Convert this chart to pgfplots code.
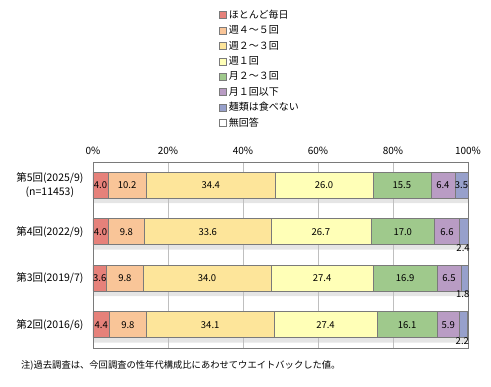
\documentclass[border=0pt]{standalone}
\usepackage{pgfplots}
\pgfplotsset{compat=1.18}
\usepackage{fontspec}
\setmainfont{Noto Sans CJK JP}
\definecolor{c1}{HTML}{E6817A}
\definecolor{c2}{HTML}{F9C598}
\definecolor{c3}{HTML}{FDE59A}
\definecolor{c4}{HTML}{FFFFB7}
\definecolor{c5}{HTML}{9FC98C}
\definecolor{c6}{HTML}{B99CC4}
\definecolor{c7}{HTML}{97A0CB}
\definecolor{bord}{HTML}{7A7A7A}
\pgfplotsset{
  geom/.style={anchor=south west, scale only axis, width=375pt, height=186pt,
    xmin=0, xmax=100, ymin=-0.5, ymax=3.5, y dir=reverse},
}
\begin{document}
\begin{tikzpicture}[x=1pt,y=1pt]
\useasboundingbox (0,0) rectangle (491,387);
% shadow
\begin{axis}[geom, at={(93pt,34pt)}, hide axis, xbar, bar width=26pt]
\addplot[fill=black!10, draw=none] coordinates {(100,0) (100.1,1) (100,2) (99.9,3)};
\end{axis}
% bars
\begin{axis}[geom, at={(93pt,39pt)},
  xbar stacked, bar width=26pt,
  clip=false,
  xtick={0,20,40,60,80,100}, xticklabel pos=upper,
  xticklabel={\pgfmathprintnumber{\tick}\%},
  /pgf/number format/assume math mode=true,
  xmajorgrids, major grid style={draw=black!25, line width=0.6pt},
  ytick={0,1,2,3},
  yticklabels={{第5回(2025/9)\\(n=11453)},{第4回(2022/9)},{第3回(2019/7)},{第2回(2016/6)}},
  yticklabel style={align=center, font=\fontsize{10.5}{14}\selectfont, xshift=-6pt},
  xticklabel style={font=\fontsize{10}{12}\selectfont, yshift=4pt},
  tick style={draw=none},
  axis line style={draw=bord, line width=0.7pt},
  legend image code/.code={\draw[#1, draw=bord, line width=0.6pt] (0pt,-3.5pt) rectangle (7pt,3.5pt);},
  legend cell align=left,
  legend style={at={(0.336,1.825)}, anchor=north west, draw=none, fill=none,
    inner sep=0pt, row sep=2.4pt, font=\fontsize{10}{12}\selectfont,
    nodes={inner sep=2pt, text height=7.5pt, text depth=1.5pt}},
  every axis plot/.append style={draw=bord, line width=0.5pt},
]
\addplot[fill=c1] coordinates {(4.0,0) (4.0,1) (3.6,2) (4.4,3)};
\addlegendentry{ほとんど毎日}
\addplot[fill=c2] coordinates {(10.2,0) (9.8,1) (9.8,2) (9.8,3)};
\addlegendentry{週４～５回}
\addplot[fill=c3] coordinates {(34.4,0) (33.6,1) (34.0,2) (34.1,3)};
\addlegendentry{週２～３回}
\addplot[fill=c4] coordinates {(26.0,0) (26.7,1) (27.4,2) (27.4,3)};
\addlegendentry{週１回}
\addplot[fill=c5] coordinates {(15.5,0) (17.0,1) (16.9,2) (16.1,3)};
\addlegendentry{月２～３回}
\addplot[fill=c6] coordinates {(6.4,0) (6.6,1) (6.5,2) (5.9,3)};
\addlegendentry{月１回以下}
\addplot[fill=c7] coordinates {(3.5,0) (2.4,1) (1.8,2) (2.2,3)};
\addlegendentry{麺類は食べない}
\addlegendimage{fill=white}
\addlegendentry{無回答}
\end{axis}
% value labels, at the middle of each segment
\begin{axis}[geom, at={(93pt,39pt)}, hide axis, clip=false,
  point meta=explicit symbolic,
  every axis plot/.append style={nodes near coords},
  every axis plot post/.append style={draw=none, mark=none},
  every node near coord/.style={anchor=center, inner sep=0pt, font=\fontsize{9.5}{11}\selectfont, text=black},
]
\addplot coordinates {(2.0,0) [4.0] (2.0,1) [4.0] (1.8,2) [3.6] (2.2,3) [4.4]};
\addplot coordinates {(9.1,0) [10.2] (8.9,1) [9.8] (8.5,2) [9.8] (9.3,3) [9.8]};
\addplot coordinates {(31.4,0) [34.4] (30.6,1) [33.6] (30.4,2) [34.0] (31.25,3) [34.1]};
\addplot coordinates {(61.6,0) [26.0] (60.75,1) [26.7] (61.1,2) [27.4] (62.0,3) [27.4]};
\addplot coordinates {(82.35,0) [15.5] (82.6,1) [17.0] (83.25,2) [16.9] (83.75,3) [16.1]};
\addplot coordinates {(93.3,0) [6.4] (94.4,1) [6.6] (94.95,2) [6.5] (94.75,3) [5.9]};
\addplot coordinates {(98.25,0) [3.5]};
\addplot[every node near coord/.append style={anchor=east, xshift=1.5pt, yshift=-16pt}]
  coordinates {(100.1,1) [2.4] (100.0,2) [1.8] (99.9,3) [2.2]};
\end{axis}
\node[anchor=west, font=\fontsize{9.3}{11}\selectfont, inner sep=0pt] at (21,22) {注)過去調査は、今回調査の性年代構成比にあわせてウエイトバックした値。};
\end{tikzpicture}
\end{document}
